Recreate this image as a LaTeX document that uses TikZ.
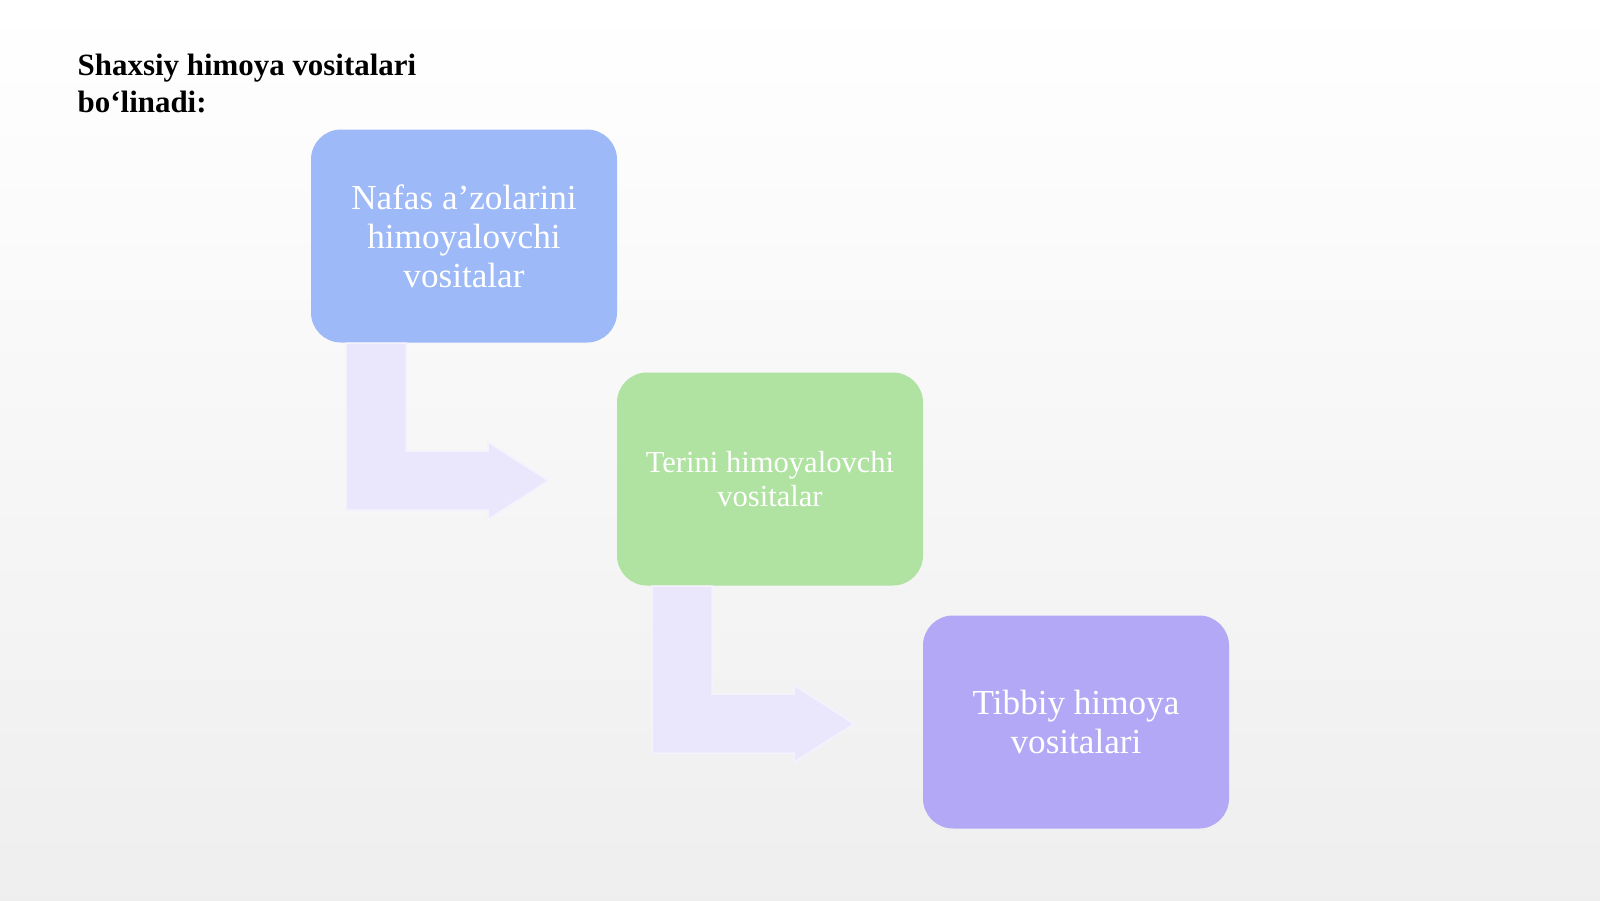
\documentclass[tikz,border=0pt]{standalone}
\usepackage{fontspec}
\setmainfont{Liberation Serif}
\usepackage{tikz}
\usetikzlibrary{matrix,calc}

\definecolor{nafasblue}{RGB}{157,185,247}
\definecolor{terigreen}{RGB}{176,227,162}
\definecolor{tibbiypurple}{RGB}{179,168,245}
\definecolor{bentfill}{RGB}{234,230,251}

\tikzset{
	turbox/.style={rounded corners=0.3cm, minimum width=3.06cm, minimum height=2.13cm, text width=2.8cm, align=flush center, text=white, inner sep=0pt},
	bigtext/.style={font=\fontsize{10}{11.1}\selectfont},
	smalltext/.style={font=\fontsize{8.7}{9.7}\selectfont},
	bentarrow/.style={fill=bentfill, draw=white!50!bentfill, line width=0.5pt}
}

\begin{document}
\begin{tikzpicture}
\useasboundingbox (0,0) rectangle (16,9);
\shade[top color=white, bottom color=gray!13] (0,0) rectangle (16,9);

\node[anchor=north west, align=left, inner sep=0pt, font=\fontsize{8.8}{10.5}\selectfont\bfseries] (title) at (0.77,8.47) {Shaxsiy himoya vositalari\\bo‘linadi:};

%\matrix(m)[matrix of nodes, row sep=0.3cm, column sep=0.3cm]
\matrix(m)[matrix of nodes, row sep=0.3cm, column sep=0cm, nodes={turbox}] at (7.70,4.21)
{
	|[fill=nafasblue,bigtext]| Nafas a’zolarini himoyalovchi vositalar & & \\
	& |[fill=terigreen,smalltext]| Terini himoyalovchi vositalar & \\
	& & |[fill=tibbiypurple,bigtext]| Tibbiy himoya vositalari \\
};

\fill[bentarrow] ($(m-1-1.south west)+(0.36,0)$) -- ++(0.60,0) -- ++(0,-1.08) -- ++(0.82,0) -- ++(0,0.09) -- ++(0.60,-0.385) -- ++(-0.60,-0.385) -- ++(0,0.09) -- ++(-1.42,0) -- cycle;
\fill[bentarrow] ($(m-2-2.south west)+(0.36,0)$) -- ++(0.60,0) -- ++(0,-1.08) -- ++(0.82,0) -- ++(0,0.09) -- ++(0.60,-0.385) -- ++(-0.60,-0.385) -- ++(0,0.09) -- ++(-1.42,0) -- cycle;
\end{tikzpicture}
\end{document}
